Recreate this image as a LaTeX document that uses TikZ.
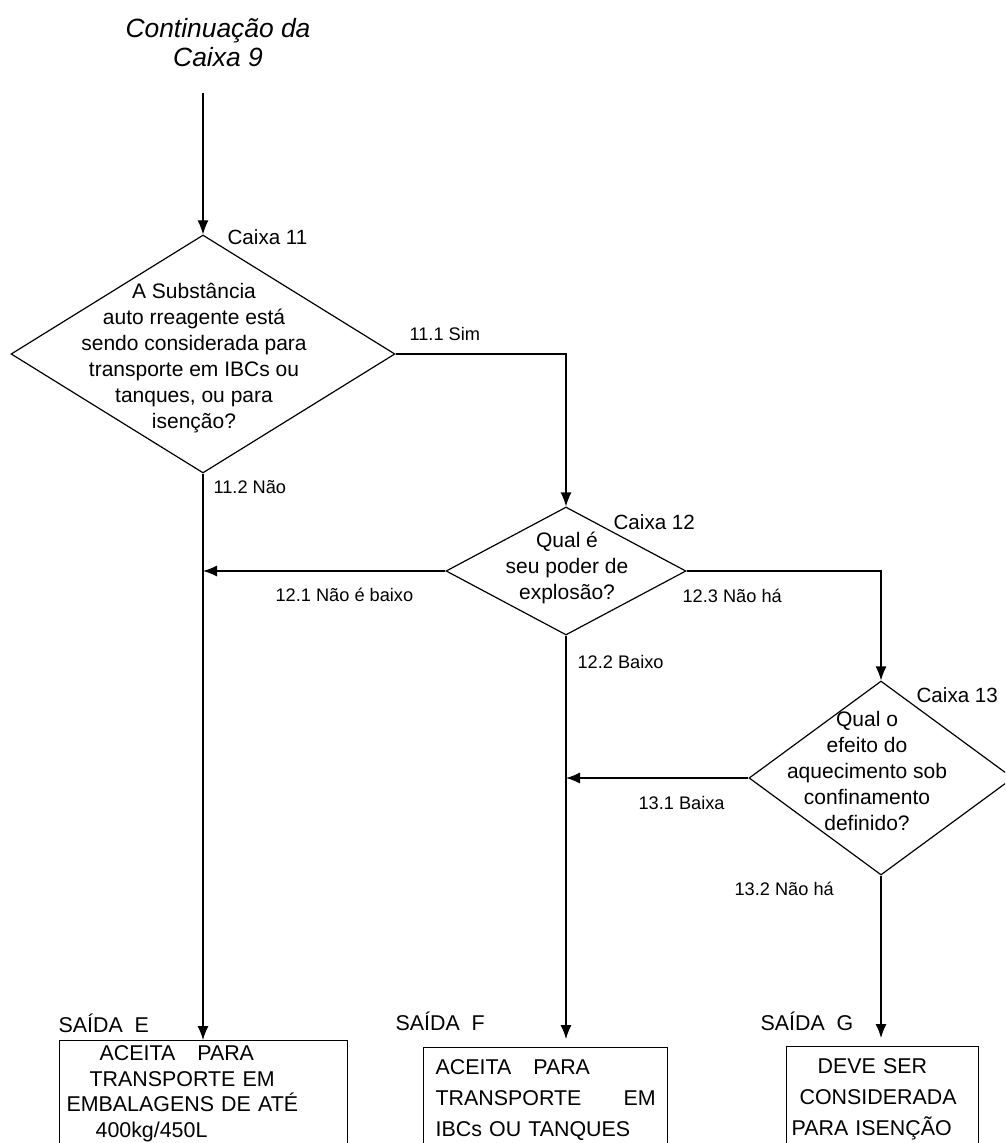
\documentclass[tikz,border=0pt]{standalone}
\usepackage{fontspec}
\setmainfont{Liberation Sans}
\usetikzlibrary{shapes.geometric,positioning,arrows.meta}
\tikzset{decision/.style={draw,diamond,inner sep=0pt},
  qtext/.style={align=center,inner sep=0pt,font=\fontsize{10.5}{13}\selectfont},
  tag/.style={anchor=base west,inner sep=0pt,font=\fontsize{10.3}{12}\selectfont},
  answer/.style={anchor=base west,inner sep=0pt,font=\fontsize{9.1}{11}\selectfont},
  exitbox/.style={draw,anchor=north west,align=left,inner ysep=0pt},
  flow/.style={-{Latex[length=7pt,width=5.5pt]}}}

\begin{document}
\begin{tikzpicture}[x=0.5pt,y=-0.5pt,line width=0.6pt]
\useasboundingbox (0,0) rectangle (1005,1143);
\clip (0,0) rectangle (1005,1143);

\node[align=center,
    inner sep=0pt,
    font=\fontsize{13.2}{14.5}\selectfont\itshape
] (title) at (218,43) {Continuação da\\Caixa 9};
\coordinate (start) at (203,93);

% decisions
\node[decision,
    minimum width=192pt,
    minimum height=119pt
] (d11) at (203,354) {};
\node[qtext] (t11) at (194,358) {A Substância\\auto rreagente está\\sendo considerada para\\transporte em IBCs ou\\tanques, ou para\\isenção?};
\node[tag] (c11) at (227,245) {Caixa 11};

\node[decision,
    minimum width=120pt,
    minimum height=64pt
] (d12) at (566,571) {};
\node[qtext] (t12) at (567,568) {Qual é\\seu poder de\\explosão?};
\node[tag] (c12) at (613,529) {Caixa 12};

\node[decision,
    minimum width=132pt,
    minimum height=97pt
] (d13) at (881,778) {};
\node[qtext] (t13) at (867,771) {Qual o\\efeito do\\aquecimento sob\\confinamento\\definido?};
\node[tag] (c13) at (916,702) {Caixa 13};

% exits
\node[exitbox,
    text width=137pt,
    inner xsep=3.5pt,
    minimum height=53pt,
    font=\fontsize{10.7}{12.85}\selectfont
] (boxE) at (59,1040) {\hspace*{16.5pt}ACEITA\hspace{11pt}PARA\\
    \hspace*{11.5pt}TRANSPORTE EM\\
    EMBALAGENS DE ATÉ\\
    \hspace*{14.5pt}400kg/450L};
\node[exitbox,
    text width=110pt,
    inner xsep=6pt,
    minimum height=52.5pt,
    font=\fontsize{10.7}{15.5}\selectfont
] (boxF) at (423,1047) {ACEITA\hspace{11pt}PARA\\
    TRANSPORTE\hfill EM\\
    IBCs OU TANQUES};
\node[exitbox,
    text width=91pt,
    inner xsep=2.5pt,
    minimum height=52.5pt,
    font=\fontsize{10.7}{15.5}\selectfont
] (boxG) at (786,1046) {\hspace*{13pt}DEVE SER\\
    \hspace*{4pt}CONSIDERADA\\
    PARA ISENÇÃO};
\node[tag,font=\fontsize{10.7}{12}\selectfont] (sE) at (58,1032) {SAÍDA\ \ E};
\node[tag,font=\fontsize{10.7}{12}\selectfont] (sF) at (395,1030) {SAÍDA\ \ F};
\node[tag,font=\fontsize{10.7}{12}\selectfont] (sG) at (760,1030) {SAÍDA\ \ G};

% answers
\node[answer] (a111) at (409,341) {11.1 Sim};
\node[answer] (a112) at (213,493) {11.2 Não};
\node[answer] (a121) at (275,601) {12.1 Não é baixo};
\node[answer] (a122) at (577,668) {12.2 Baixo};
\node[answer] (a123) at (682,602) {12.3 Não há};
\node[answer] (a131) at (638,809) {13.1 Baixa};
\node[answer] (a132) at (734,895) {13.2 Não há};

% Arrows
\draw[flow] (start) -- (d11.north);
\draw[flow] (d11.east) -| (d12.north);
\draw[flow] (d11.south) -- (d11.south |- boxE.north);
\draw[flow] (d12.west) -- (d12.west -| d11.south);
\draw[flow] (d12.east) -| (d13.north);
\draw[flow,shorten >=4pt] (d12.south) -- (d12.south |- boxF.north);
\draw[flow] (d13.west) -- (d13.west -| d12.south);
\draw[flow,shorten >=4pt] (d13.south) -- (d13.south |- boxG.north);
\end{tikzpicture}
\end{document}
